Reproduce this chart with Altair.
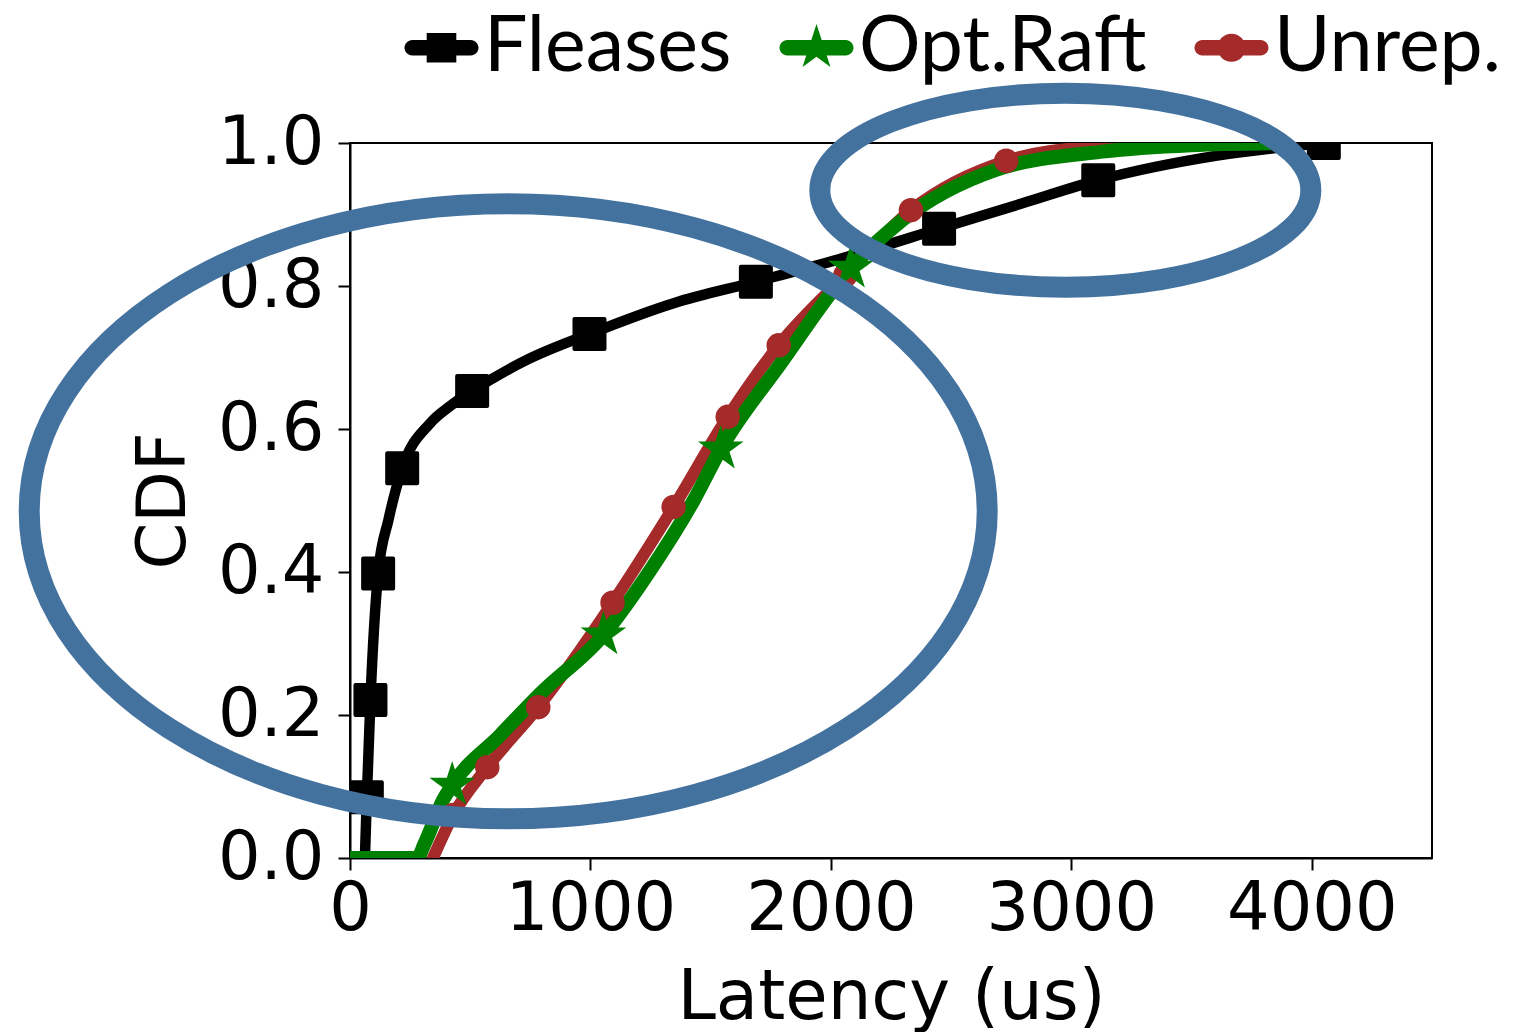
import math
import altair as alt
import pandas as pd

# ---------------- data ----------------
series_names = ["Fleases", "Opt.Raft", "Unrep."]
series_colors = ["#000000", "#008000", "#A52A2A"]

fleases_line_x = [62, 70, 85, 117, 160, 217, 333, 420, 508, 737, 996, 1346, 1688, 2050, 2450, 2800, 3112, 3600, 4050]
fleases_line_y = [0.0, 0.085, 0.221, 0.398, 0.473, 0.545, 0.608, 0.633, 0.653, 0.697, 0.733, 0.776, 0.806, 0.839, 0.880, 0.916, 0.948, 0.982, 1.0]
fleases_mark_x = [70, 85, 117, 217, 508, 996, 1688, 2450, 3112, 4050]
fleases_mark_y = [0.085, 0.221, 0.398, 0.545, 0.653, 0.733, 0.806, 0.880, 0.948, 1.0]

optraft_line_x = [0, 279, 310, 387, 425, 625, 792, 1054, 1250, 1429, 1542, 1792, 2083, 2300, 2683, 3129, 3500, 3900]
optraft_line_y = [0.0, 0.0, 0.020, 0.081, 0.102, 0.172, 0.230, 0.312, 0.403, 0.500, 0.572, 0.692, 0.825, 0.893, 0.962, 0.988, 0.997, 1.0]
optraft_mark_x = [425, 1054, 1542, 2083]
optraft_mark_y = [0.102, 0.312, 0.572, 0.825]

unrep_line_x = [345, 429, 571, 783, 1092, 1346, 1571, 1783, 2060, 2333, 2729, 3100, 3500]
unrep_line_y = [0.0, 0.060, 0.127, 0.211, 0.357, 0.491, 0.617, 0.717, 0.815, 0.906, 0.975, 0.995, 1.0]
unrep_mark_x = [429, 571, 783, 1092, 1346, 1571, 1783, 2060, 2333, 2729]
unrep_mark_y = [0.060, 0.127, 0.211, 0.357, 0.491, 0.617, 0.717, 0.815, 0.906, 0.975]

x_ticks = [0, 1000, 2000, 3000, 4000]
y_ticks = [0.0, 0.2, 0.4, 0.6, 0.8, 1.0]

# annotation ellipses (centre in data units)
ellipse_cx = [658, 2975]
ellipse_cy = [0.485, 0.934]

# ---------------- shapes ----------------
def fmt(v):
    return f"{v:.4f}"

def ellipse_path(b):
    k = 0.5523
    return (f"M -1 0 C -1 {fmt(-k*b)} {fmt(-k)} {fmt(-b)} 0 {fmt(-b)} "
            f"C {fmt(k)} {fmt(-b)} 1 {fmt(-k*b)} 1 0 "
            f"C 1 {fmt(k*b)} {fmt(k)} {fmt(b)} 0 {fmt(b)} "
            f"C {fmt(-k)} {fmt(b)} -1 {fmt(k*b)} -1 0 Z")

def circle_path(r):
    k = 0.5523 * r
    return (f"M {fmt(-r)} 0 C {fmt(-r)} {fmt(-k)} {fmt(-k)} {fmt(-r)} 0 {fmt(-r)} "
            f"C {fmt(k)} {fmt(-r)} {fmt(r)} {fmt(-k)} {fmt(r)} 0 "
            f"C {fmt(r)} {fmt(k)} {fmt(k)} {fmt(r)} 0 {fmt(r)} "
            f"C {fmt(-k)} {fmt(r)} {fmt(-r)} {fmt(k)} {fmt(-r)} 0 Z")

def star_points(r_out, r_in):
    pts = []
    for i in range(10):
        ang = math.radians(-90 + i * 36)
        r = r_out if i % 2 == 0 else r_in
        pts.append((r * math.cos(ang), r * math.sin(ang)))
    return pts

def poly(pts):
    return "M " + " L ".join(f"{fmt(x)} {fmt(y)}" for x, y in pts) + " Z"

star_marker = poly(star_points(1.0, 0.382))

t = 0.21  # legend line half-thickness
line_part = (f"M -0.79 {fmt(-t)} L 0.79 {fmt(-t)} "
             f"C 0.91 {fmt(-t)} 1 {fmt(-t/2)} 1 0 C 1 {fmt(t/2)} 0.91 {fmt(t)} 0.79 {fmt(t)} "
             f"L -0.79 {fmt(t)} C -0.91 {fmt(t)} -1 {fmt(t/2)} -1 0 C -1 {fmt(-t/2)} -0.91 {fmt(-t)} -0.79 {fmt(-t)} Z")
sq = 0.40
legend_square = line_part + " " + poly([(-sq, -sq), (sq, -sq), (sq, sq), (-sq, sq)])
legend_star = line_part + " " + poly(star_points(0.64, 0.64 * 0.382))
legend_circle = line_part + " " + circle_path(0.38)
legend_paths = [legend_square, legend_star, legend_circle]

# ---------------- frames ----------------
def frame(xs, ys, name):
    return pd.DataFrame({"x": xs, "y": ys, "series": name})

fl_line = frame(fleases_line_x, fleases_line_y, "Fleases")
fl_mark = frame(fleases_mark_x, fleases_mark_y, "Fleases")
op_line = frame(optraft_line_x, optraft_line_y, "Opt.Raft")
op_mark = frame(optraft_mark_x, optraft_mark_y, "Opt.Raft")
un_line = frame(unrep_line_x, unrep_line_y, "Unrep.")
un_mark = frame(unrep_mark_x, unrep_mark_y, "Unrep.")
legend_df = pd.concat([fl_mark.head(1), op_mark.head(1), un_mark.head(1)])
ell_df = pd.DataFrame({"x": ellipse_cx, "y": ellipse_cy})

FONT = "DejaVu Sans"
x_scale = alt.Scale(domain=[0, 4500], nice=False, zero=False)
y_scale = alt.Scale(domain=[0, 1], nice=False)

x_enc = alt.X("x:Q", scale=x_scale, axis=alt.Axis(
    values=x_ticks, format="d", title="Latency (us)", grid=False,
    labelFont=FONT, labelFontSize=67, labelColor="black", labelPadding=6,
    labelFlush=False, labelOverlap=False,
    titleFont=FONT, titleFontSize=69, titleFontWeight="normal", titleColor="black",
    titleX=541, titleY=160, titleBaseline="alphabetic", titleAlign="center",
    tickSize=12, tickWidth=2, tickColor="black", domainColor="black", domainWidth=2))
y_enc = alt.Y("y:Q", scale=y_scale, axis=alt.Axis(
    values=y_ticks, format=".1f", title="CDF", grid=False,
    labelFont=FONT, labelFontSize=67, labelColor="black", labelPadding=14,
    labelFlush=False, labelOverlap=False,
    titleFont=FONT, titleFontSize=67, titleFontWeight="normal", titleColor="black",
    titleX=-166, titleY=357.5, titleAngle=270, titleBaseline="alphabetic", titleAlign="center",
    tickSize=12, tickWidth=2, tickColor="black", domainColor="black", domainWidth=2))


def line_layer(df, color, lw):
    return alt.Chart(df).mark_line(color=color, strokeWidth=lw, interpolate="monotone",
                                   clip=True, strokeCap="round", strokeJoin="round").encode(x=x_enc, y=y_enc)

fl_l = line_layer(fl_line, "#000000", 10.5)
un_l = line_layer(un_line, "#A52A2A", 12)
op_l = line_layer(op_line, "#008000", 14)

fl_m = alt.Chart(fl_mark).mark_point(shape="square", filled=True, size=900, color="#000000",
                                     opacity=1, stroke="#000000", strokeWidth=4, strokeJoin="round",
                                     clip=True).encode(x=x_enc, y=y_enc)
un_m = alt.Chart(un_mark).mark_point(shape="circle", filled=True, size=600, color="#A52A2A",
                                     opacity=1, clip=True).encode(x=x_enc, y=y_enc)
op_m = alt.Chart(op_mark).mark_point(shape=star_marker, filled=True, size=2304, color="#008000",
                                     opacity=1, clip=True).encode(x=x_enc, y=y_enc)

leg = alt.Legend(title=None, orient="none", direction="horizontal", legendX=53, legendY=-134,
                 labelFont="Lato", labelFontSize=77, labelColor="black", labelOffset=4,
                 symbolSize=5476, symbolStrokeWidth=0, symbolOpacity=1, columnPadding=46,
                 padding=0, labelLimit=600)
legend_layer = alt.Chart(legend_df).mark_point(filled=True, opacity=0, clip=True).encode(
    x=x_enc, y=y_enc,
    color=alt.Color("series:N", scale=alt.Scale(domain=series_names, range=series_colors), legend=leg),
    shape=alt.Shape("series:N", scale=alt.Scale(domain=series_names, range=legend_paths), legend=leg),
)

BLUE = "#44729F"
ell_big = alt.Chart(ell_df.iloc[[0]]).mark_point(
    shape=ellipse_path(307.5 / 479.0), size=(2 * 479) ** 2, filled=False, stroke=BLUE,
    strokeWidth=21, opacity=1).encode(x=x_enc, y=y_enc)
ell_small = alt.Chart(ell_df.iloc[[1]]).mark_point(
    shape=ellipse_path(97.0 / 245.5), size=(2 * 245.5) ** 2, filled=False, stroke=BLUE,
    strokeWidth=21, opacity=1).encode(x=x_enc, y=y_enc)

chart = alt.layer(
    fl_l, un_l, op_l, fl_m, un_m, op_m, legend_layer, ell_big, ell_small
).properties(
    width=1082, height=715,
    autosize=alt.AutoSizeParams(type="none"),
    padding={"left": 342, "top": 135, "right": 80, "bottom": 174},
).configure_view(stroke="black", strokeWidth=2)

chart.save("out.html", embed_options={"renderer": "svg", "actions": False})
